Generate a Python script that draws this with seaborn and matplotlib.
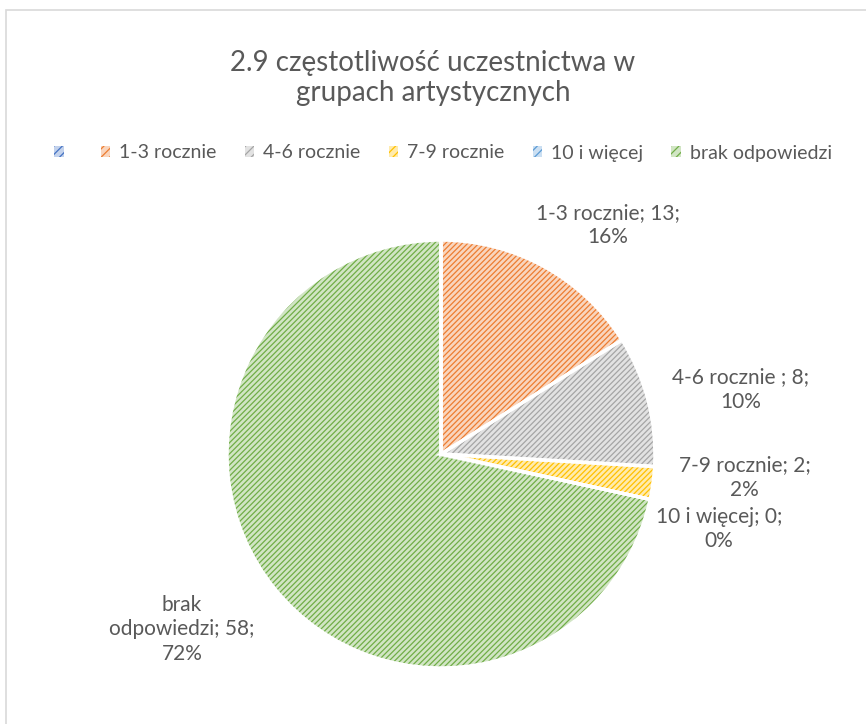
import matplotlib
matplotlib.use("Agg")
import matplotlib.pyplot as plt
import matplotlib.colors as mcolors
from matplotlib.patches import Patch, Rectangle
import seaborn as sns

# chart data
categories = ["", "1-3 rocznie", "4-6 rocznie", "7-9 rocznie", "10 i więcej", "brak odpowiedzi"]
counts = [0, 13, 8, 2, 0, 58]
slice_labels = [
    "",
    "1-3 rocznie; 13;\n16%",
    "4-6 rocznie ; 8;\n10%",
    "7-9 rocznie; 2;\n2%",
    "10 i więcej; 0;\n0%",
    "brak\nodpowiedzi; 58;\n72%",
]
title = "2.9 częstotliwość uczestnictwa w\ngrupach artystycznych"

# styling
colors = ["#4472C4", "#ED7D31", "#A5A5A5", "#FFC000", "#5B9BD5", "#70AD47"]
label_pos = [None, (0.78, 1.07), (1.40, 0.30), (1.42, -0.11), (1.30, -0.35), (-1.21, -0.82)]
text_color = "#595959"

sns.set_theme(style="white")
plt.rcParams["font.family"] = ["Lato", "DejaVu Sans"]
plt.rcParams["hatch.linewidth"] = 0.9


def tint(c, amount=0.68):
    r, g, b = mcolors.to_rgb(c)
    return (r + (1 - r) * amount, g + (1 - g) * amount, b + (1 - b) * amount)


fig = plt.figure(figsize=(8.66, 7.24), dpi=100)
ax = fig.add_axes([0.2621, 0.0773, 0.4942, 0.5912])

# hatched fill, then white separators on top
wedges, _ = ax.pie(counts, startangle=90, counterclock=False,
                   colors=[tint(c) for c in colors],
                   wedgeprops=dict(linewidth=0))
for w, c in zip(wedges, colors):
    w.set_hatch("//////")
    w.set_edgecolor(c)
    w.set_linewidth(0)
ax.pie(counts, startangle=90, counterclock=False,
       wedgeprops=dict(fill=False, edgecolor="white", linewidth=2.5))
ax.set_xlim(-1, 1)
ax.set_ylim(-1, 1)
ax.set_aspect("equal")
ax.axis("off")

for lab, pos in zip(slice_labels, label_pos):
    if pos is None:
        continue
    ax.text(pos[0], pos[1], lab, ha="center", va="center", fontsize=15,
            color=text_color, linespacing=1.3)

fig.text(0.5, 1 - 78 / 724, title, ha="center", va="center", fontsize=20,
         color=text_color, linespacing=1.2)

handles = [Patch(facecolor=tint(c), edgecolor=c, hatch="////", linewidth=0) for c in colors]
fig.legend(handles, categories, loc="center", bbox_to_anchor=(0.5 + 10 / 866, 1 - 153 / 724),
           ncol=6, frameon=False, fontsize=14, labelcolor=text_color,
           handlelength=0.5, handleheight=0.5, handletextpad=0.45, columnspacing=1.45)

# chart area border
fig.patches.append(Rectangle((6 / 866, -0.1), 2, 1.1 - 10 / 724, transform=fig.transFigure,
                             fill=False, edgecolor="#D9D9D9", linewidth=1.2))

fig.savefig("out.png", dpi=100, facecolor="white")
